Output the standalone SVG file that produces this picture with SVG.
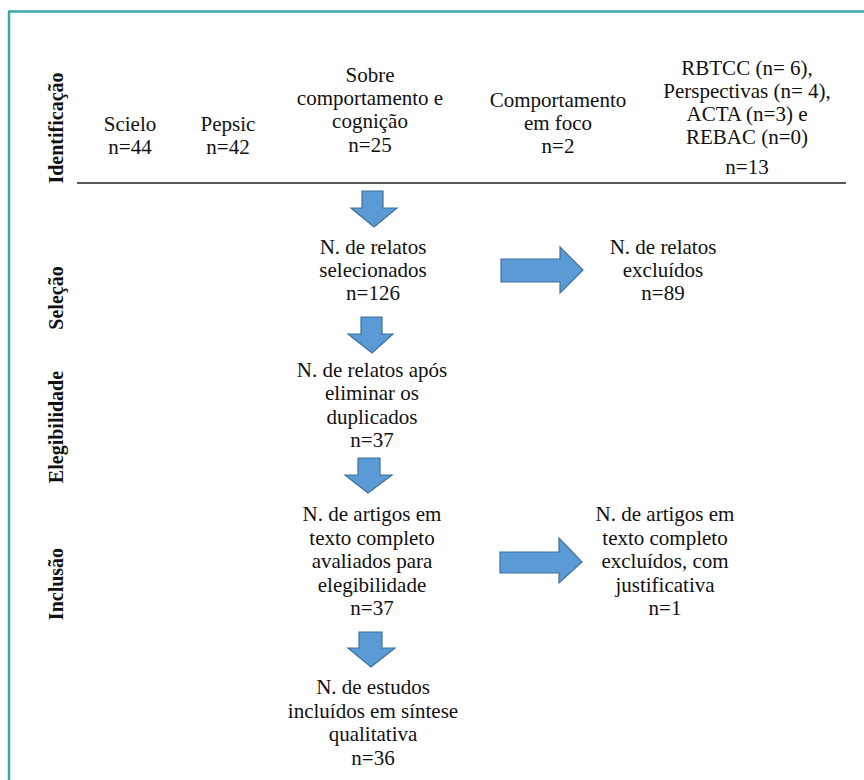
<svg xmlns="http://www.w3.org/2000/svg" width="864" height="780" viewBox="0 0 864 780">
<style>
.t{font-family:"Liberation Serif","Times New Roman",serif;font-size:21px;fill:#111;text-anchor:middle}
.s{font-family:"Liberation Serif","Times New Roman",serif;font-size:20px;font-weight:bold;fill:#111;text-anchor:middle}
.ar{fill:#5b9bd5;stroke:#41719c;stroke-width:1.2;stroke-linejoin:miter}
</style>
<rect width="864" height="780" fill="#fff"/>
<path d="M9,780 V11.5 H864" fill="none" stroke="#3aa9ab" stroke-width="2.5"/>
<g id="stages">
<text class="s" transform="translate(63,128) rotate(-90)">Identificação</text>
<text class="s" transform="translate(63,298) rotate(-90)">Seleção</text>
<text class="s" transform="translate(63,427) rotate(-90)">Elegibilidade</text>
<text class="s" transform="translate(63,584) rotate(-90)">Inclusão</text>
</g>
<line x1="77" y1="183" x2="846" y2="183" stroke="#222" stroke-width="1.5"/>
<g id="scielo"><text class="t" x="130" y="131">Scielo</text><text class="t" x="130" y="154">n=44</text></g>
<g id="pepsic"><text class="t" x="228" y="131">Pepsic</text><text class="t" x="228" y="154">n=42</text></g>
<g id="sobre"><text class="t" x="370" y="82">Sobre</text><text class="t" x="370" y="105">comportamento e</text><text class="t" x="370" y="128">cognição</text><text class="t" x="370" y="152">n=25</text></g>
<g id="emfoco"><text class="t" x="558" y="107">Comportamento</text><text class="t" x="558" y="130">em foco</text><text class="t" x="558" y="153">n=2</text></g>
<g id="outros"><text class="t" x="747" y="75">RBTCC (n= 6),</text><text class="t" x="747" y="98">Perspectivas (n= 4),</text><text class="t" x="747" y="121">ACTA (n=3) e</text><text class="t" x="747" y="144">REBAC (n=0)</text><text class="t" x="747" y="174">n=13</text></g>
<g id="selecionados"><text class="t" x="373" y="254">N. de relatos</text><text class="t" x="373" y="277">selecionados</text><text class="t" x="373" y="300">n=126</text></g>
<g id="excluidos"><text class="t" x="663" y="254">N. de relatos</text><text class="t" x="663" y="277">excluídos</text><text class="t" x="663" y="300">n=89</text></g>
<g id="duplicados"><text class="t" x="372" y="377">N. de relatos após</text><text class="t" x="372" y="400">eliminar os</text><text class="t" x="372" y="424">duplicados</text><text class="t" x="372" y="447">n=37</text></g>
<g id="avaliados"><text class="t" x="372" y="521">N. de artigos em</text><text class="t" x="372" y="545">texto completo</text><text class="t" x="372" y="568">avaliados para</text><text class="t" x="372" y="592">elegibilidade</text><text class="t" x="372" y="615">n=37</text></g>
<g id="excluidos2"><text class="t" x="665" y="521">N. de artigos em</text><text class="t" x="665" y="545">texto completo</text><text class="t" x="665" y="568">excluídos, com</text><text class="t" x="665" y="592">justificativa</text><text class="t" x="665" y="615">n=1</text></g>
<g id="incluidos"><text class="t" x="373" y="694">N. de estudos</text><text class="t" x="373" y="718">incluídos em síntese</text><text class="t" x="373" y="741">qualitativa</text><text class="t" x="373" y="765">n=36</text></g>
<g id="connectors">
<polygon class="ar" points="362,191 383,191 383,208 397,208 374,227 351,208 362,208"/>
<polygon class="ar" points="361,317 382,317 382,334 393,334 372,353 348,334 361,334"/>
<polygon class="ar" points="358,458 380,458 380,475 392,475 368,493 345,475 358,475"/>
<polygon class="ar" points="359,632 382,632 382,648 395,648 371,667 348,648 359,648"/>
<polygon class="ar" points="501,259 560,259 560,247 583,270 560,293 560,282 501,282"/>
<polygon class="ar" points="500,552 559,552 559,538 582,562 559,583 559,573 500,573"/>
</g>
</svg>
